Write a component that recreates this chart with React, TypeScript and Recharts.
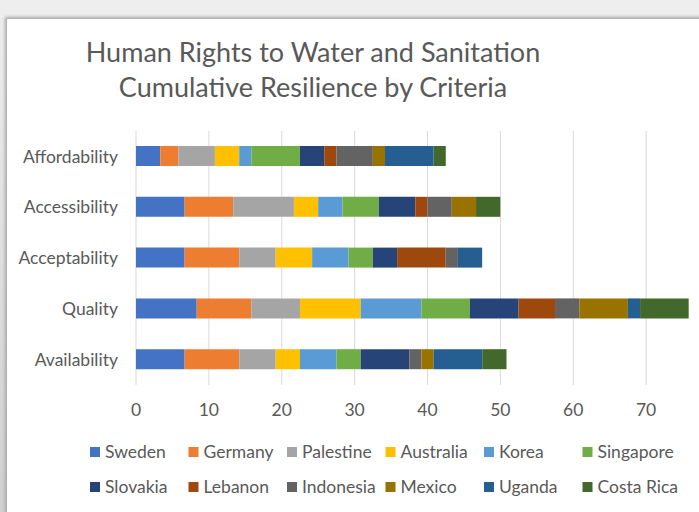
import React from 'react';
import { BarChart, Bar, XAxis, YAxis, CartesianGrid } from 'recharts';

const categories = ['Affordability', 'Accessibility', 'Acceptability', 'Quality', 'Availability'];
const countries = ['Sweden', 'Germany', 'Palestine', 'Australia', 'Korea', 'Singapore', 'Slovakia', 'Lebanon', 'Indonesia', 'Mexico', 'Uganda', 'Costa Rica'];
const colors = ['#4472C4', '#ED7D31', '#A5A5A5', '#FFC000', '#5B9BD5', '#70AD47', '#264478', '#9E480E', '#636363', '#997300', '#255E91', '#43682B'];

// values in category order: Affordability, Accessibility, Acceptability, Quality, Availability
const sweden = [3.33, 6.67, 6.67, 8.33, 6.67];
const germany = [2.5, 6.67, 7.5, 7.5, 7.5];
const palestine = [5, 8.33, 5, 6.67, 5];
const australia = [3.33, 3.33, 5, 8.33, 3.33];
const korea = [1.67, 3.33, 5, 8.33, 5];
const singapore = [6.67, 5, 3.33, 6.67, 3.33];
const slovakia = [3.33, 5, 3.33, 6.67, 6.67];
const lebanon = [1.67, 1.67, 6.67, 5, 0];
const indonesia = [5, 3.33, 1.67, 3.33, 1.67];
const mexico = [1.67, 3.33, 0, 6.67, 1.67];
const uganda = [6.67, 0, 3.33, 1.67, 6.67];
const costaRica = [1.67, 3.33, 0, 6.67, 3.33];

const series = [sweden, germany, palestine, australia, korea, singapore, slovakia, lebanon, indonesia, mexico, uganda, costaRica];
const xTicks = [0, 10, 20, 30, 40, 50, 60, 70, 80];
const titleLines = ['Human Rights to Water and Sanitation', 'Cumulative Resilience by Criteria'];

const FONT = 'Lato, "Open Sans", sans-serif';
const TEXT = '#595959';

export default function App() {
  const data = categories.map((c, i) => {
    const row: Record<string, any> = { name: c };
    countries.forEach((k, j) => {
      row[k] = series[j][i];
    });
    return row;
  });

  return (
    <div style={{ position: 'fixed', left: 0, top: 0, width: 699, height: 512, overflow: 'hidden', background: 'linear-gradient(#eeeeee, #d0d0d0)' }}>
      <div style={{ position: 'absolute', left: 7, top: 19, width: 800, height: 520, background: '#ffffff', boxShadow: '-2px -2px 3px #a8a8a8' }} />
      <div style={{ position: 'absolute', left: 0, top: 0 }}>
        <BarChart width={760} height={512} data={data} layout="vertical" margin={{ top: 131, right: 41, bottom: 97, left: 0 }}>
          <CartesianGrid horizontal={false} stroke="#d9d9d9" />
          <XAxis
            type="number"
            domain={[0, 80]}
            ticks={xTicks}
            interval={0}
            axisLine={false}
            tickLine={false}
            height={30}
            tickMargin={13}
            tickFormatter={(v: number) => (v >= 80 ? '' : String(v))}
            tick={{ fill: TEXT, fontSize: 17.5, fontFamily: FONT }}
          />
          <YAxis
            type="category"
            dataKey="name"
            width={136}
            axisLine={false}
            tickLine={false}
            tickMargin={12}
            tick={{ fill: TEXT, fontSize: 17.5, fontFamily: FONT }}
          />
          {countries.map((k, j) => (
            <Bar key={k} dataKey={k} stackId="a" fill={colors[j]} barSize={20} isAnimationActive={false} />
          ))}
        </BarChart>
      </div>
      <svg width={699} height={512} style={{ position: 'absolute', left: 0, top: 0, pointerEvents: 'none' }}>
        {titleLines.map((t, i) => (
          <text key={t} x={313} y={62 + i * 35} textAnchor="middle" fill={TEXT} fontSize={27} fontFamily={FONT}>
            {t}
          </text>
        ))}
        {countries.map((k, j) => {
          const col = j % 6;
          const row = Math.floor(j / 6);
          const x = 90 + col * 98.5;
          const y = 447 + row * 35;
          return (
            <g key={k}>
              <rect x={x} y={y} width={10} height={10} fill={colors[j]} />
              <text x={x + 15} y={y + 10.5} fill={TEXT} fontSize={17.5} fontFamily={FONT}>
                {k}
              </text>
            </g>
          );
        })}
      </svg>
    </div>
  );
}
